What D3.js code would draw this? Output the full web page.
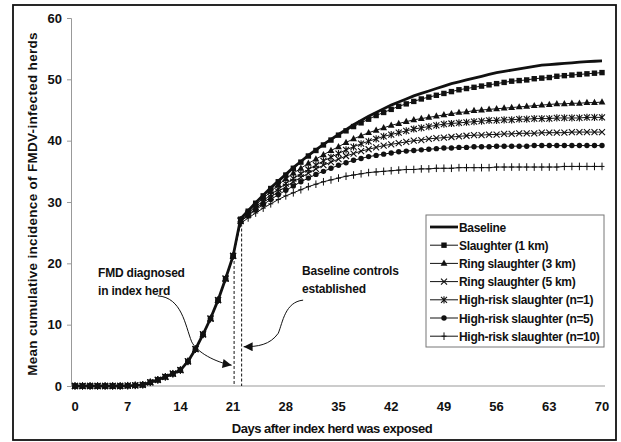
<!DOCTYPE html>
<html>
<head>
<meta charset="utf-8">
<script src="https://cdn.jsdelivr.net/npm/d3@7"></script>
<style>
  body { margin: 0; background: #fff; }
  svg text { font-family: "Liberation Sans", Arial, sans-serif; font-weight: bold; fill: #111; }
</style>
</head>
<body>
<div id="chart"></div>
<script>
// days 0..70, shared rise until day 21
const days = d3.range(0, 71);
const earlyPhase = [0, 0, 0, 0, 0, 0, 0, 0.05, 0.1, 0.2, 0.6, 1.0, 1.5, 2.0, 2.6, 4.0, 6.0, 8.4, 11.0, 14.0, 17.5, 21.2];

const baselineTail = [27.3, 28.6, 29.9, 31.1, 32.3, 33.4, 34.5, 35.6, 36.6, 37.6, 38.5, 39.4, 40.2, 41.0, 41.8, 42.6, 43.3, 44.0, 44.6, 45.2, 45.8, 46.3, 46.8, 47.3, 47.7, 48.1, 48.5, 48.9, 49.3, 49.6, 49.9, 50.2, 50.5, 50.8, 51.1, 51.3, 51.5, 51.7, 51.9, 52.1, 52.3, 52.4, 52.5, 52.6, 52.7, 52.8, 52.9, 52.95, 53.0];
const slaughter1Tail = [27.2, 28.5, 29.8, 31.0, 32.2, 33.3, 34.4, 35.5, 36.5, 37.5, 38.4, 39.3, 40.1, 40.9, 41.6, 42.3, 42.9, 43.5, 44.1, 44.6, 45.1, 45.6, 46.0, 46.4, 46.8, 47.1, 47.4, 47.7, 48.0, 48.3, 48.5, 48.7, 48.9, 49.1, 49.3, 49.5, 49.7, 49.8, 49.9, 50.1, 50.2, 50.3, 50.5, 50.6, 50.7, 50.8, 50.9, 51.0, 51.1];
const ring3Tail = [27.1, 28.3, 29.5, 30.6, 31.7, 32.8, 33.8, 34.7, 35.5, 36.3, 37.0, 37.7, 38.4, 39.0, 39.7, 40.3, 40.8, 41.3, 41.7, 42.1, 42.5, 42.8, 43.1, 43.4, 43.6, 43.8, 44.0, 44.2, 44.4, 44.6, 44.7, 44.9, 45.0, 45.1, 45.2, 45.3, 45.4, 45.5, 45.6, 45.7, 45.8, 45.9, 46.0, 46.0, 46.1, 46.1, 46.2, 46.2, 46.3];
const ring5Tail = [26.9, 27.9, 28.9, 29.9, 30.8, 31.7, 32.5, 33.3, 34.0, 34.7, 35.4, 36.0, 36.5, 37.0, 37.5, 37.9, 38.3, 38.6, 38.9, 39.2, 39.4, 39.6, 39.8, 40.0, 40.1, 40.3, 40.4, 40.5, 40.6, 40.7, 40.8, 40.9, 40.9, 41.0, 41.0, 41.1, 41.1, 41.2, 41.2, 41.2, 41.3, 41.3, 41.3, 41.3, 41.4, 41.4, 41.4, 41.4, 41.4];
const highRisk1Tail = [27.0, 28.1, 29.2, 30.2, 31.2, 32.1, 33.0, 33.8, 34.6, 35.3, 36.0, 36.7, 37.3, 37.9, 38.5, 39.0, 39.5, 39.9, 40.3, 40.7, 41.0, 41.3, 41.6, 41.9, 42.1, 42.3, 42.5, 42.7, 42.8, 42.9, 43.0, 43.1, 43.2, 43.3, 43.3, 43.4, 43.4, 43.5, 43.5, 43.6, 43.6, 43.6, 43.7, 43.7, 43.7, 43.7, 43.8, 43.8, 43.8];
const highRisk5Tail = [26.8, 27.8, 28.7, 29.6, 30.4, 31.2, 31.9, 32.6, 33.3, 33.9, 34.5, 35.0, 35.5, 36.0, 36.4, 36.8, 37.1, 37.4, 37.6, 37.8, 38.0, 38.2, 38.3, 38.4, 38.5, 38.6, 38.7, 38.8, 38.8, 38.9, 38.9, 39.0, 39.0, 39.0, 39.1, 39.1, 39.1, 39.1, 39.1, 39.2, 39.2, 39.2, 39.2, 39.2, 39.2, 39.2, 39.2, 39.2, 39.2];
const highRisk10Tail = [26.5, 27.4, 28.2, 29.0, 29.7, 30.4, 31.0, 31.5, 32.0, 32.5, 32.9, 33.3, 33.6, 33.9, 34.2, 34.4, 34.6, 34.8, 34.9, 35.0, 35.1, 35.2, 35.3, 35.3, 35.4, 35.4, 35.5, 35.5, 35.5, 35.6, 35.6, 35.6, 35.6, 35.6, 35.7, 35.7, 35.7, 35.7, 35.7, 35.7, 35.7, 35.7, 35.7, 35.8, 35.8, 35.8, 35.8, 35.8, 35.8];

const seriesNames = ["Baseline", "Slaughter (1 km)", "Ring slaughter (3 km)", "Ring slaughter (5 km)",
    "High-risk slaughter (n=1)", "High-risk slaughter (n=5)", "High-risk slaughter (n=10)"];
const seriesTails = [baselineTail, slaughter1Tail, ring3Tail, ring5Tail, highRisk1Tail, highRisk5Tail, highRisk10Tail];
const markerTypes = ["none", "square", "triangle", "x", "star", "circle", "plus"];

const xTicks = [0, 7, 14, 21, 28, 35, 42, 49, 56, 63, 70];
const yTicks = [0, 10, 20, 30, 40, 50, 60];

const width = 621, height = 442;

const svg = d3.select("#chart").append("svg")
    .attr("width", width)
    .attr("height", height);

// outer frame
svg.append("rect")
    .attr("x", 13).attr("y", 5)
    .attr("width", 603).attr("height", 435)
    .attr("fill", "none")
    .attr("stroke", "#111")
    .attr("stroke-width", 1.8);

const x = d3.scaleLinear().domain([0, 70]).range([75, 602]);
const y = d3.scaleLinear().domain([0, 60]).range([386, 18]);

// axes
svg.append("line")
    .attr("x1", 71).attr("x2", 605)
    .attr("y1", y(0)).attr("y2", y(0))
    .attr("stroke", "#999").attr("stroke-width", 1);

const yAxis = svg.append("g")
    .attr("transform", "translate(71,0)")
    .call(d3.axisLeft(y).tickValues(yTicks).tickSize(4).tickPadding(5));
yAxis.select(".domain").attr("stroke", "#999");
yAxis.selectAll(".tick line").attr("stroke", "#999");
yAxis.selectAll("text").style("font-size", "13px").attr("fill", "#111");

svg.append("g").selectAll("text")
    .data(xTicks)
    .enter()
    .append("text")
    .attr("x", d => x(d))
    .attr("y", 411)
    .attr("text-anchor", "middle")
    .style("font-size", "13px")
    .text(d => d);

// axis titles
svg.append("text")
    .attr("x", 332)
    .attr("y", 433)
    .attr("text-anchor", "middle")
    .style("font-size", "13px")
    .style("letter-spacing", "-0.5px")
    .text("Days after index herd was exposed");

svg.append("text")
    .attr("transform", "translate(37,204) rotate(-90)")
    .attr("text-anchor", "middle")
    .style("font-size", "13.5px")
    .style("letter-spacing", "0.3px")
    .text("Mean cumulative incidence of FMDV-infected herds");

// markers
function drawMarker(g, type, cx, cy) {
    if (type === "square") {
        g.append("rect").attr("x", cx - 2.7).attr("y", cy - 2.7).attr("width", 5.4).attr("height", 5.4).attr("fill", "#111");
    } else if (type === "triangle") {
        g.append("path").attr("d", `M${cx},${cy - 3.8}L${cx + 3.4},${cy + 2.4}L${cx - 3.4},${cy + 2.4}Z`).attr("fill", "#111");
    } else if (type === "circle") {
        g.append("circle").attr("cx", cx).attr("cy", cy).attr("r", 2.7).attr("fill", "#111");
    } else if (type === "x") {
        g.append("path").attr("d", `M${cx - 3},${cy - 3}L${cx + 3},${cy + 3}M${cx - 3},${cy + 3}L${cx + 3},${cy - 3}`)
            .attr("stroke", "#111").attr("stroke-width", 1.1);
    } else if (type === "star") {
        g.append("path").attr("d", `M${cx - 3},${cy - 3}L${cx + 3},${cy + 3}M${cx - 3},${cy + 3}L${cx + 3},${cy - 3}M${cx},${cy - 3.6}L${cx},${cy + 3.6}`)
            .attr("stroke", "#111").attr("stroke-width", 1.1);
    } else if (type === "plus") {
        g.append("path").attr("d", `M${cx},${cy - 3.8}L${cx},${cy + 3.8}M${cx - 2.5},${cy}L${cx + 2.5},${cy}`)
            .attr("stroke", "#111").attr("stroke-width", 1);
    }
}

const line = d3.line().x((d, i) => x(days[i])).y(d => y(d));

// draw lowest series first, baseline last
for (let s = seriesNames.length - 1; s >= 0; s--) {
    const values = earlyPhase.concat(seriesTails[s]);
    const g = svg.append("g");
    g.append("path")
        .datum(values)
        .attr("d", line)
        .attr("fill", "none")
        .attr("stroke", "#111")
        .attr("stroke-width", s === 0 ? 2.8 : 1);
    if (markerTypes[s] !== "none") {
        values.forEach((v, i) => drawMarker(g, markerTypes[s], x(days[i]), y(v)));
    }
}

// dashed lines at diagnosis / controls
const dashedDays = [21, 22];
const dashedTops = [earlyPhase[21], baselineTail[0]];
dashedDays.forEach((d, i) => {
    svg.append("line")
        .attr("x1", x(d) + 1).attr("x2", x(d) + 1)
        .attr("y1", y(dashedTops[i])).attr("y2", y(0))
        .attr("stroke", "#111").attr("stroke-width", 1)
        .attr("stroke-dasharray", "3,2");
});

// annotation arrows
svg.append("defs").append("marker")
    .attr("id", "arrow")
    .attr("viewBox", "0 0 10 10")
    .attr("refX", 10).attr("refY", 5)
    .attr("markerWidth", 11).attr("markerHeight", 9)
    .attr("markerUnits", "userSpaceOnUse")
    .attr("orient", "auto")
    .append("path")
    .attr("d", "M0,0L10,5L0,10Z")
    .attr("fill", "#111");

function curvePath(pts) {
    const p = d3.path();
    p.moveTo(x(pts[0][0]), y(pts[0][1]));
    for (let i = 1; i < pts.length; i += 3) {
        p.bezierCurveTo(x(pts[i][0]), y(pts[i][1]), x(pts[i + 1][0]), y(pts[i + 1][1]), x(pts[i + 2][0]), y(pts[i + 2][1]));
    }
    return p.toString();
}

const arrowDiagnosed = [[11.0, 14.7], [14.2, 14.4], [14.6, 10.0], [15.5, 7.2], [16.2, 5.5], [18.6, 3.9], [20.8, 3.4]];
const arrowControls = [[30.3, 14.0], [27.9, 13.7], [27.6, 10.4], [27.0, 8.6], [25.9, 6.7], [24.3, 6.4], [22.4, 6.4]];

[arrowDiagnosed, arrowControls].forEach(pts => {
    svg.append("path")
        .attr("d", curvePath(pts))
        .attr("fill", "none")
        .attr("stroke", "#111")
        .attr("stroke-width", 1)
        .attr("marker-end", "url(#arrow)");
});

// annotation text
const notes = [
    { x: 98, y: 277, t: "FMD diagnosed" },
    { x: 98, y: 295, t: "in index herd" },
    { x: 302, y: 275, t: "Baseline controls" },
    { x: 302, y: 293, t: "established" }
];
svg.append("g").selectAll("text")
    .data(notes)
    .enter()
    .append("text")
    .attr("x", d => d.x)
    .attr("y", d => d.y)
    .style("font-size", "12px")
    .style("letter-spacing", "-0.2px")
    .text(d => d.t);

// legend
const legend = svg.append("g");
legend.append("rect")
    .attr("x", 426).attr("y", 215)
    .attr("width", 178).attr("height", 132)
    .attr("fill", "#fff")
    .attr("stroke", "#777").attr("stroke-width", 1);

seriesNames.forEach((name, i) => {
    const ly = 227 + i * 18.2;
    legend.append("line")
        .attr("x1", 430).attr("x2", 458)
        .attr("y1", ly).attr("y2", ly)
        .attr("stroke", "#111").attr("stroke-width", i === 0 ? 2.8 : 1);
    drawMarker(legend, markerTypes[i], 444, ly);
    legend.append("text")
        .attr("x", 459)
        .attr("y", ly + 4.5)
        .style("font-size", "12px")
        .style("letter-spacing", "-0.3px")
        .text(name);
});
</script>
</body>
</html>
